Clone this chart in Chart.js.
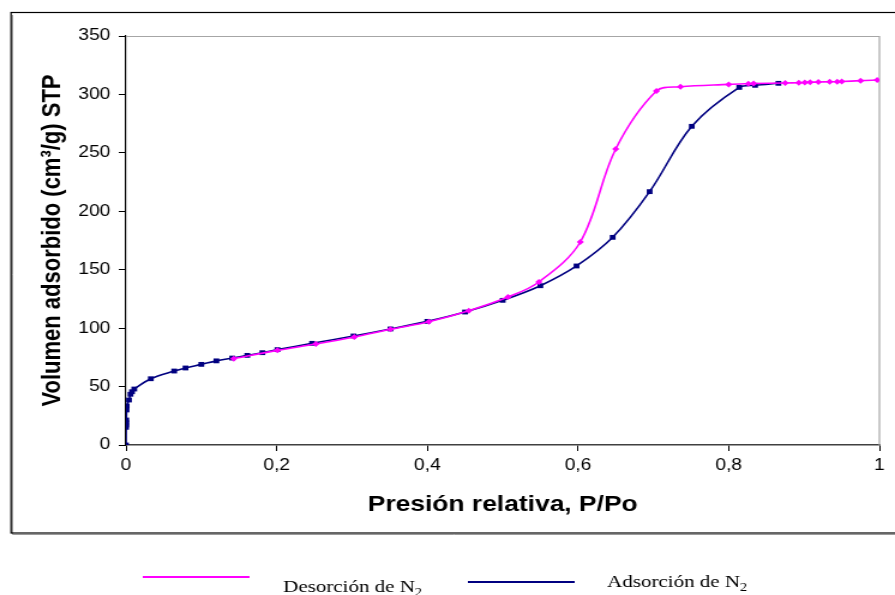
<!DOCTYPE html>
<html><head><meta charset="utf-8">
<script src="https://cdn.jsdelivr.net/npm/chart.js@4.4.1/dist/chart.umd.min.js"></script>
<style>html,body{margin:0;padding:0;background:#fff;overflow:hidden}
#c{display:block}</style>
</head><body>
<canvas id="c" width="746" height="595" style="width:895px;height:595px"></canvas>
<script>
// ---- Data (relative pressure P/Po, adsorbed volume cm3/g STP) ----
const desorcionX = [0.143,0.201,0.252,0.303,0.351,0.402,0.455,0.507,0.548,0.603,0.650,0.704,0.736,0.800,0.826,0.833,0.875,0.893,0.901,0.908,0.919,0.934,0.944,0.950,0.975,0.997];
const desorcionY = [73.9,81.0,86.4,92.4,99.0,105.5,114.9,126.6,139.5,173.7,253.3,302.9,306.6,308.6,309.2,309.3,309.8,310.0,310.2,310.4,310.6,310.8,310.9,311.0,311.8,312.3];
const adsorcionX = [0,0.0001,0.0002,0.0003,0.0004,0.0008,0.001,0.004,0.006,0.008,0.011,0.033,0.064,0.079,0.100,0.120,0.141,0.161,0.181,0.201,0.247,0.302,0.351,0.400,0.450,0.500,0.550,0.598,0.646,0.695,0.751,0.814,0.835,0.866];
const adsorcionY = [0,15.1,17.1,19.1,21.4,30.0,33.4,38.5,43.4,45.6,47.9,56.7,63.3,65.9,69.0,72.0,74.4,76.7,79.0,81.6,87.0,93.3,99.3,105.8,113.8,123.8,136.3,153.2,177.7,216.8,272.7,306.0,307.8,309.5];
const seriesNames = ['Desorción de N\u2082','Adsorción de N\u2082'];
const xTicks = [0,0.2,0.4,0.6,0.8,1];
const yTicks = [0,50,100,150,200,250,300,350];
const xTitle = 'Presión relativa, P/Po';
const yTitle = 'Volumen adsorbido (cm\u00B3/g) STP';

const toPts = (xs, ys) => xs.map((x, i) => ({x, y: ys[i]}));

const decor = {
  id: 'decor',
  beforeDraw(chart) {
    const ctx = chart.ctx, W = chart.width;
    ctx.save();
    ctx.fillStyle = '#fff';
    ctx.fillRect(0, 0, W, chart.height);
    ctx.strokeStyle = '#9a9a9a'; ctx.lineWidth = 1;
    ctx.beginPath(); ctx.moveTo(10.5, 15); ctx.lineTo(10.5, 534.5); ctx.lineTo(W + 5, 534.5); ctx.stroke();
    ctx.strokeStyle = '#000'; ctx.lineWidth = 1.2;
    ctx.strokeRect(9.2, 12.5, W + 20, 520.5);
    ctx.restore();
  },
  beforeDatasetsDraw(chart) {
    const {ctx, chartArea: a} = chart;
    ctx.save();
    ctx.strokeStyle = '#a6a6a6'; ctx.lineWidth = 1.2;
    ctx.beginPath(); ctx.moveTo(a.left, a.top + 0.5); ctx.lineTo(a.right, a.top + 0.5); ctx.lineTo(a.right, a.bottom); ctx.stroke();
    ctx.restore();
  },
  afterDraw(chart) {
    const ctx = chart.ctx;
    const items = [
      {ds: chart.data.datasets[0], x0: 119, x1: 208, ly: 577, tx: 236, ty: 592},
      {ds: chart.data.datasets[1], x0: 390, x1: 479, ly: 582, tx: 506, ty: 587}
    ];
    ctx.save();
    items.forEach(it => {
      ctx.strokeStyle = it.ds.borderColor; ctx.lineWidth = 2;
      ctx.beginPath(); ctx.moveTo(it.x0, it.ly); ctx.lineTo(it.x1, it.ly); ctx.stroke();
      const parts = it.ds.label.split('\u2082');
      ctx.fillStyle = '#000'; ctx.textBaseline = 'alphabetic'; ctx.textAlign = 'left';
      ctx.font = '17.5px "Liberation Serif", "Times New Roman", serif';
      ctx.fillText(parts[0], it.tx, it.ty);
      const w = ctx.measureText(parts[0]).width;
      ctx.font = '12px "Liberation Serif", "Times New Roman", serif';
      ctx.fillText('2', it.tx + w, it.ty + 4);
    });
    ctx.restore();
  }
};

const fmtX = v => (v === 0 ? '0' : v === 1 ? '1' : v.toFixed(1).replace('.', ','));

new Chart(document.getElementById('c'), {
  type: 'scatter',
  data: {
    datasets: [
      {label: seriesNames[0], data: toPts(desorcionX, desorcionY), showLine: true, tension: 0.35,
       borderColor: '#FF00FF', backgroundColor: '#FF00FF', borderWidth: 1.6,
       pointStyle: 'rectRot', pointRadius: 3, pointBorderWidth: 0},
      {label: seriesNames[1], data: toPts(adsorcionX, adsorcionY), showLine: true, tension: 0.35,
       borderColor: '#000080', backgroundColor: '#000080', borderWidth: 1.6,
       pointStyle: 'rect', pointRadius: 3.4, pointBorderWidth: 0}
    ]
  },
  options: {
    responsive: false, animation: false, devicePixelRatio: 1,
    layout: {padding: {top: 36, right: 13, left: 0, bottom: 0}},
    plugins: {legend: {display: false}, tooltip: {enabled: false}},
    scales: {
      x: {
        type: 'linear', min: 0, max: 1,
        afterBuildTicks: s => { s.ticks = xTicks.map(v => ({value: v})); },
        ticks: {callback: fmtX, color: '#000', font: {family: '"Liberation Sans", Arial, sans-serif', size: 16}, padding: 5, maxRotation: 0},
        grid: {drawOnChartArea: false, drawTicks: true, tickLength: 6, color: '#000'},
        border: {color: '#404040', width: 1.5},
        title: {display: true, text: xTitle, color: '#000', font: {family: '"Liberation Sans", Arial, sans-serif', size: 22, weight: 'bold'}, padding: {top: 0, bottom: 77}},
        afterFit: s => { s.height = 150; }
      },
      y: {
        type: 'linear', min: 0, max: 350,
        afterBuildTicks: s => { s.ticks = yTicks.map(v => ({value: v})); },
        ticks: {color: '#000', font: {family: '"Liberation Sans", Arial, sans-serif', size: 16}, padding: 7},
        grid: {drawOnChartArea: false, drawTicks: true, tickLength: 6, color: '#000'},
        border: {color: '#000', width: 1.2},
        title: {display: true, text: yTitle, color: '#000', font: {family: '"Liberation Sans", Arial, sans-serif', size: 22, weight: 'bold'}, padding: {top: 31, bottom: 0}},
        afterFit: s => { s.width = 105; }
      }
    }
  },
  plugins: [decor]
});
</script>
</body></html>
